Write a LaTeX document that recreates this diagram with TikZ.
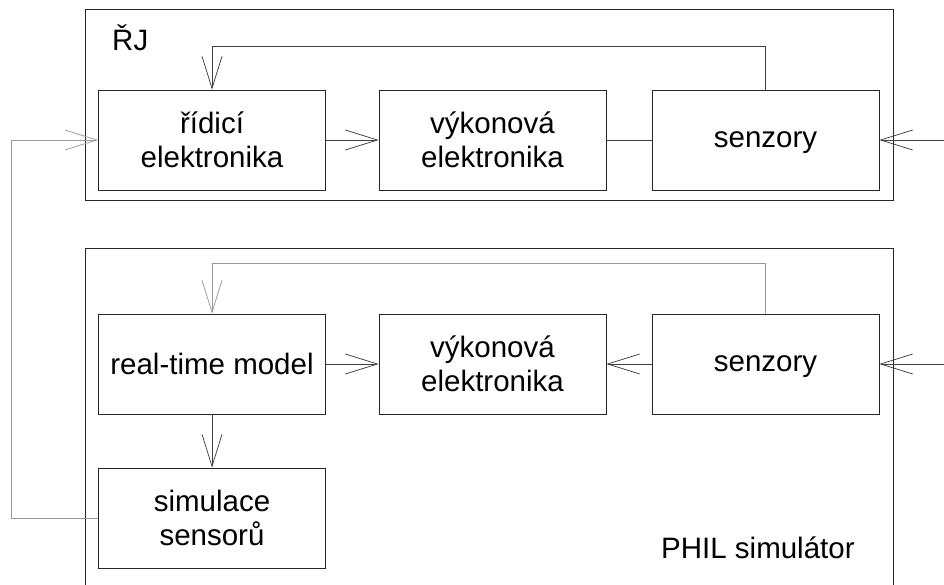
\documentclass[tikz,border=0pt]{standalone}
\usepackage{fontspec}
\setmainfont{Liberation Sans}
\usetikzlibrary{arrows.meta}
\begin{document}
\begin{tikzpicture}[x=1pt,y=-1pt,
  txt/.style={font=\fontsize{29.5}{34}\selectfont, align=center, inner sep=0pt},
  block/.style={draw=black!85, line width=0.8pt, minimum width=227pt, minimum height=100pt, txt},
  oneline/.style={text depth=0pt},
  frame/.style={draw=black!85, line width=0.8pt, inner sep=0pt},
  barb/.style={-{Straight Barb[length=32pt,width=20pt,line width=0.75pt]}},
  wire/.style={draw=black!75, line width=0.8pt},
  lwire/.style={draw=black!40, line width=0.9pt}]
\useasboundingbox (0,0) rectangle (944,585);
\clip (0,0) rectangle (944,585);

% outer frames
\node[frame, minimum width=808pt, minimum height=191pt] (rj) at (489,104.5) {};
\node[frame, minimum width=808pt, minimum height=372pt] (phil) at (489,434) {};
\node[txt, anchor=west] (rjlab) at (112,38) {ŘJ};
\node[txt, anchor=west] (phillab) at (661,548) {PHIL simulátor};

% upper row
\node[block] (ctrl) at (212,140) {řídicí\\elektronika};
\node[block] (pow1) at (492.5,140) {výkonová\\elektronika};
\node[block, oneline] (sen1) at (765.5,140) {senzory};

% lower rows
\node[block, oneline] (rtm) at (212,364) {real-time model};
\node[block] (pow2) at (492.5,364) {výkonová\\elektronika};
\node[block, oneline] (sen2) at (765.5,364) {senzory};
\node[block] (sim) at (212,518) {simulace\\sensorů};

\coordinate (in1) at (944,140);
\coordinate (in2) at (944,364);

% upper connections
\draw[wire, barb] (sen1.north) -- ++(0,-43) -| (ctrl.north);
\draw[wire, barb] (ctrl) -- (pow1);
\draw[wire] (pow1) -- (sen1);
\draw[wire, barb] (in1) -- (sen1.east);

% lower connections
\draw[lwire, barb] (sen2.north) -- ++(0,-50) -| (rtm.north);
\draw[wire, barb] (rtm) -- (pow2);
\draw[wire, barb] (sen2) -- (pow2);
\draw[wire, barb] (in2) -- (sen2.east);
\draw[wire, barb] (rtm) -- (sim);
\draw[lwire, barb] (sim.west) -- ++(-87,0) |- (ctrl.west);
\end{tikzpicture}
\end{document}
